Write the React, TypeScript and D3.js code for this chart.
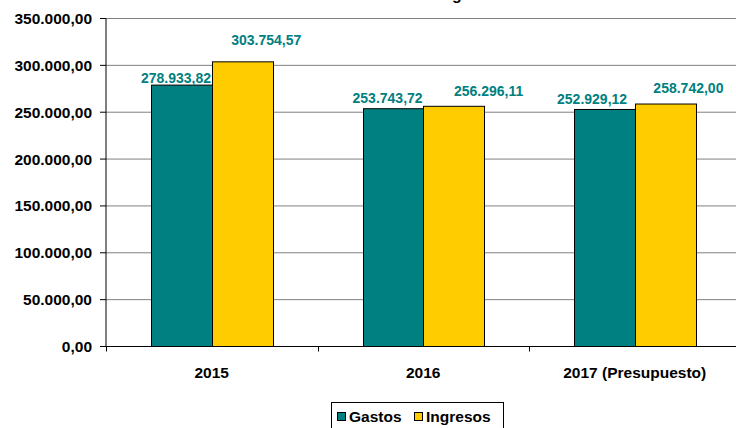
import React from "react";
import * as d3 from "d3";

const categories = ["2015", "2016", "2017 (Presupuesto)"];
const seriesNames = ["Gastos", "Ingresos"];
const gastos = [278933.82, 253743.72, 252929.12];
const ingresos = [303754.57, 256296.11, 258742.0];
const yTicks = [0, 50000, 100000, 150000, 200000, 250000, 300000, 350000];
const title = "Gastos e Ingresos";

// label nudges (px) relative to bar center/top, per series per category
const labelDx = [[-5.4, -5.3, -12.3], [24.2, 35, 23.3]];
const labelDy = [[-2.4, -6, -5.5], [-16.8, -10.3, -10.7]];

const colors = ["#008080", "#FFCC00"];
const W = 736, H = 428;
const left = 106, right = 740.5, top = 18.5, bottom = 346.5;
const font = "Arial, 'Liberation Sans', sans-serif";

const locale = d3.formatLocale({ decimal: ",", thousands: ".", grouping: [3], currency: ["", "€"] });
const fmt = locale.format(",.2f");

export default function App() {
  const x0 = d3.scaleBand<string>().domain(categories).range([left, right]).paddingInner(0).paddingOuter(0);
  const x1 = d3.scaleBand<string>().domain(seriesNames).range([0, x0.bandwidth()]).paddingInner(0).paddingOuter(0.742);
  const y = d3.scaleLinear().domain([0, 350000]).range([bottom, top]);
  const series = [gastos, ingresos];

  return (
    <svg width={W} height={H} style={{ position: "absolute", left: 0, top: 0, background: "#fff" }} fontFamily={font}>
      <rect x={0} y={0} width={W} height={H} fill="#fff" />
      <text x={435} y={-0.5} textAnchor="middle" fontSize={16} fontWeight="bold" fill="#000">{title}</text>
      {yTicks.map((t) => (
        <g key={t}>
          {t > 0 && <line x1={left} x2={W} y1={y(t)} y2={y(t)} stroke="#808080" strokeWidth={1} />}
          <line x1={left - 6} x2={left} y1={y(t)} y2={y(t)} stroke="#000" strokeWidth={1} />
          <text x={92} y={y(t) + 5.5} textAnchor="end" fontSize={15.5} fontWeight="bold" fill="#000">{fmt(t)}</text>
        </g>
      ))}
      {series.map((vals, si) =>
        categories.map((c, ci) => {
          const bx = (x0(c) as number) + (x1(seriesNames[si]) as number);
          const bw = x1.bandwidth();
          const by = y(vals[ci]);
          return (
            <rect key={`b${si}-${ci}`} x={Math.round(bx) + 0.5} y={by} width={Math.round(bw)} height={bottom - by} fill={colors[si]} stroke="#000" strokeWidth={1} />
          );
        })
      )}
      <line x1={left} x2={left} y1={top} y2={bottom} stroke="#000" strokeWidth={1} />
      <line x1={left} x2={W} y1={bottom} y2={bottom} stroke="#000" strokeWidth={1} />
      {categories.map((c, i) => (
        <line key={`t${i}`} x1={Math.round(x0(c) as number) + 0.5} x2={Math.round(x0(c) as number) + 0.5} y1={bottom} y2={bottom + 5} stroke="#000" strokeWidth={1} />
      ))}
      {categories.map((c) => (
        <text key={`xl${c}`} x={(x0(c) as number) + x0.bandwidth() / 2} y={378} textAnchor="middle" fontSize={15.5} fontWeight="bold" fill="#000">{c}</text>
      ))}
      {series.map((vals, si) =>
        categories.map((c, ci) => {
          const cx = (x0(c) as number) + (x1(seriesNames[si]) as number) + x1.bandwidth() / 2;
          return (
            <text key={`l${si}-${ci}`} x={cx + labelDx[si][ci]} y={y(vals[ci]) + labelDy[si][ci]} textAnchor="middle" fontSize={14} fontWeight="bold" fill="#008080">{fmt(vals[ci])}</text>
          );
        })
      )}
      <g>
        <rect x={331.5} y={402.5} width={172} height={40} fill="#fff" stroke="#000" strokeWidth={1} />
        <rect x={337.5} y={412.5} width={8} height={8} fill={colors[0]} stroke="#000" strokeWidth={1} />
        <text x={349} y={421.7} fontSize={15.5} fontWeight="bold" fill="#000">{seriesNames[0]}</text>
        <rect x={414.5} y={412.5} width={8} height={8} fill={colors[1]} stroke="#000" strokeWidth={1} />
        <text x={426} y={421.7} fontSize={15.5} fontWeight="bold" fill="#000">{seriesNames[1]}</text>
      </g>
    </svg>
  );
}
